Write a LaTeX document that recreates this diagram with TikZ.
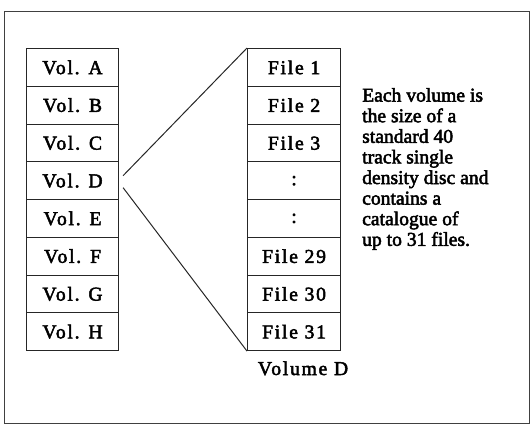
\documentclass[tikz,border=0pt]{standalone}
\usepackage{fontspec}
\setmainfont[FakeBold=2.5]{Liberation Serif}
\newfontfamily\labfont[LetterSpace=9,FakeBold=2.5]{Liberation Serif}
\begin{document}
\begin{tikzpicture}[x=1pt,y=-1pt,
  cell/.style={draw=black!85,line width=1.1pt,minimum width=92pt,minimum height=37.75pt,inner sep=0pt,font=\labfont\fontsize{19.6}{20}\selectfont,anchor=north west},
  frame/.style={draw=black!75,line width=0.8pt},
  link/.style={draw=black!85,line width=1pt}]
\useasboundingbox (0,0) rectangle (532,425);
\draw[frame] (4,11) rectangle (529,423);
\foreach \n/\t [count=\i from 0] in {vA/Vol. A,vB/Vol. B,vC/Vol. C,vD/Vol. D,vE/Vol. E,vF/Vol. F,vG/Vol. G,vH/Vol. H}{
  \node[cell] (\n) at (26,48+\i*37.75) {\t};
}
\foreach \n/\t [count=\i from 0] in {f1/File 1,f2/File 2,f3/File 3,fa/:,fb/:,f29/File 29,f30/File 30,f31/File 31}{
  \node[cell,minimum width=93pt] (\n) at (247,48+\i*37.75) {\t};
}
\coordinate (dA) at ([shift={(4,-5)}]vD.east);
\coordinate (dB) at ([shift={(4,7)}]vD.east);
\draw[link] (dA) -- (f1.north west);
\draw[link] (dB) -- (f31.south west);
\node[anchor=base,inner sep=0pt,font=\labfont\fontsize{19.6}{20}\selectfont] (cap) at (303,375) {Volume D};
\node[anchor=west,align=left,inner sep=0pt,font=\fontsize{19.6}{20.6}\selectfont] (desc) at (362,169)
  {Each volume is\\the size of a\\standard 40\\track single\\density disc and\\contains a\\catalogue of\\up to 31 files.};
\end{tikzpicture}
\end{document}
